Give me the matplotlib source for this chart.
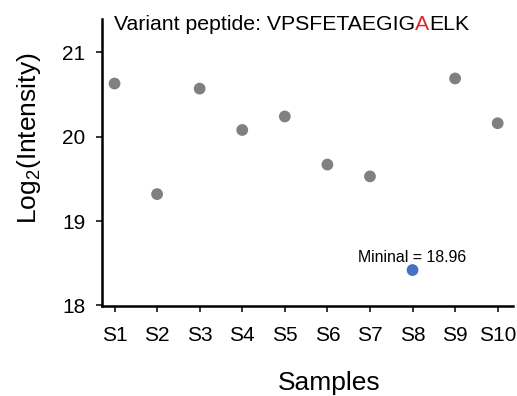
import numpy as np
import matplotlib
matplotlib.use("Agg")
import matplotlib.pyplot as plt

plt.rcParams["font.family"] = ["Liberation Sans", "DejaVu Sans"]
plt.rcParams["mathtext.fontset"] = "custom"
plt.rcParams["mathtext.rm"] = "Liberation Sans"
plt.rcParams["mathtext.it"] = "Liberation Sans:italic"
plt.rcParams["mathtext.bf"] = "Liberation Sans:bold"

# ---------------------------------------------------------------------
# Datos
# ---------------------------------------------------------------------
muestras = ["S1", "S2", "S3", "S4", "S5", "S6", "S7", "S8", "S9", "S10"]
intensidad = [20.63, 19.32, 20.57, 20.08, 20.24, 19.67, 19.53, 18.42, 20.69, 20.16]
idx_min = 7
etiqueta_min = "Mininal = 18.96"
yticks = [18, 19, 20, 21]

COL_PT, COL_MIN, COL_VAR = "#808080", "#4472c4", "#e0262b"

fig = plt.figure(figsize=(5.17, 3.96), dpi=100)
ax = fig.add_axes([102 / 517, 1 - 306 / 396, 411 / 517, 287 / 396])

x = np.arange(1, len(muestras) + 1)
y = np.array(intensidad)
otros = [i for i in range(len(x)) if i != idx_min]
ax.scatter(x[otros], y[otros], s=72, color=COL_PT, edgecolors="none", zorder=3)
ax.scatter([x[idx_min]], [y[idx_min]], s=72, color=COL_MIN, edgecolors="none", zorder=3)
ax.annotate(etiqueta_min, (x[idx_min], y[idx_min]), textcoords="offset points",
            xytext=(0, 5.5), ha="center", va="baseline", fontsize=11.4)

ax.set_xlim(0.706, 10.36)
ax.set_ylim(17.994, 21.395)
ax.set_xticks(x)
ax.set_xticklabels(muestras)
ax.set_yticks(yticks)

for lado in ["top", "right"]:
    ax.spines[lado].set_visible(False)
for lado in ["left", "bottom"]:
    ax.spines[lado].set_linewidth(1.8)
ax.tick_params(axis="both", labelsize=15, width=1.1, length=4.3, color="black")
ax.tick_params(axis="y", pad=7.5)
ax.tick_params(axis="x", pad=10)

# Título con la variante en rojo
t1 = ax.text(0.029, 0.962, "Variant peptide: VPSFETAEGIG", transform=ax.transAxes,
             fontsize=15.3, ha="left", va="baseline")
t2 = ax.annotate("A", xy=(1, 0), xycoords=t1, fontsize=15.3, color=COL_VAR,
                 ha="left", va="bottom")
ax.annotate("ELK", xy=(1, 0), xycoords=t2, fontsize=15.3, ha="left", va="bottom")

fig.text(29 / 517, 1 - 138.5 / 396, r"Log$_2$(Intensity)", rotation=90,
         ha="center", va="center", fontsize=19)
fig.text(329 / 517, 1 - 383 / 396, "Samples", ha="center", va="center", fontsize=19)

fig.savefig("out.png", dpi=100)
